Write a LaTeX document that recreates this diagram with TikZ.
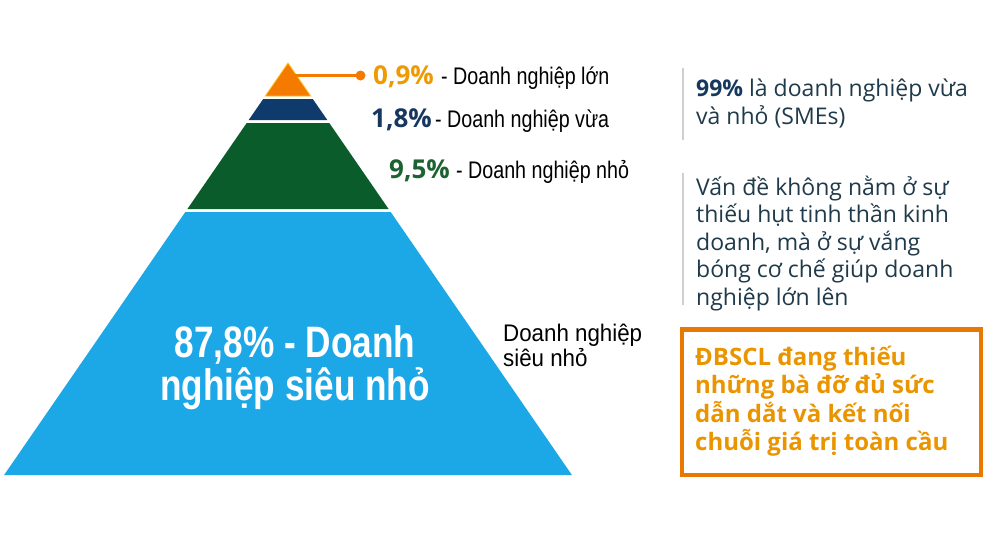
\documentclass[tikz,border=0pt]{standalone}
\usepackage{fontspec}
\setmainfont{Open Sans}
\newfontfamily\condf[FakeStretch=0.82]{Liberation Sans}
\newfontfamily\condlab[FakeStretch=0.93]{Liberation Sans}
\newfontfamily\condbig[FakeStretch=0.80]{Liberation Sans}
\definecolor{tipor}{HTML}{F57A00}
\definecolor{tipedge}{HTML}{FFC21A}
\definecolor{navyl}{HTML}{0E3A6C}
\definecolor{greenl}{HTML}{0B5C2B}
\definecolor{bluel}{HTML}{1CA8E6}
\definecolor{pctor}{HTML}{EE9A00}
\definecolor{pctnavy}{HTML}{17385E}
\definecolor{pctgreen}{HTML}{1D6231}
\definecolor{slate}{HTML}{1F3A4A}
\definecolor{boxor}{HTML}{E87800}
\definecolor{boxtxt}{HTML}{EA9500}
\definecolor{greyline}{HTML}{CFCFCF}
\begin{document}
\begin{tikzpicture}[x=1pt,y=-1pt,
  lab/.style={anchor=base west,inner sep=0pt,font=\condf\fontsize{24}{24}\selectfont,text=black},
  pct/.style={anchor=base west,inner sep=0pt,font=\bfseries\fontsize{26}{26}\selectfont},
  para/.style={anchor=north west,inner sep=0pt,align=left,text=slate,font=\fontsize{23}{27.5}\selectfont},
  sep/.style={draw=greyline,line width=1.5pt}]
\useasboundingbox[fill=white] (0,0) rectangle (1000,555);
% pyramid layers
\fill[tipor,draw=tipedge,line width=0.8pt] (288,63) -- (310.7,96) -- (265.3,96) -- cycle;
\fill[navyl] (263.2,99) -- (312.8,99) -- (327.3,120) -- (248.7,120) -- cycle;
\fill[greenl] (246.7,123) -- (329.3,123) -- (388.6,209) -- (187.4,209) -- cycle;
\fill[bluel] (185.3,212) -- (390.7,212) -- (571.9,475) -- (4.1,475) -- cycle;
% connector from tip to dot
\coordinate (tipR) at (295,75.5);
\node[circle,fill=tipor,inner sep=0pt,minimum size=10pt] (dot) at (360.5,75.5) {};
\draw[tipor,line width=2.5pt] (tipR) -- (dot.center);
% labels
\node[pct,text=pctor] (p1) at (373,84.5) {0,9\%};
\node[lab] (l1) at (441,84) {- Doanh nghiệp lớn};
\node[pct,text=pctnavy] (p2) at (371,127.5) {1,8\%};
\node[lab] (l2) at (435,127) {- Doanh nghiệp vừa};
\node[pct,text=pctgreen] (p3) at (389,178.5) {9,5\%};
\node[lab] (l3) at (456,178) {- Doanh nghiệp nhỏ};
\node[anchor=north west,inner sep=0pt,align=left,font=\condlab\fontsize{24}{24.5}\selectfont] (l4) at (503,324) {Doanh nghiệp\\siêu nhỏ};
\node[align=center,inner sep=0pt,text=white,font=\condbig\bfseries\fontsize{44}{43}\selectfont] (big) at (295,368) {87,8\% - Doanh\\nghiệp siêu nhỏ};
% right panel
\draw[sep] (683,68) -- (683,140);
\node[para] (r1) at (696,79) {\textbf{\textcolor{pctnavy}{99\%}} là doanh nghiệp vừa\\và nhỏ (SMEs)};
\draw[sep] (683,173) -- (683,305);
\node[para] (r2) at (696,175.5) {Vấn đề không nằm ở sự\\thiếu hụt tinh thần kinh\\doanh, mà ở sự vắng\\bóng cơ chế giúp doanh\\nghiệp lớn lên};
\draw[boxor,line width=4.5pt] (682,329.5) rectangle (981,475);
\node[anchor=north west,inner sep=0pt,align=left,text=boxtxt,font=\bfseries\fontsize{24}{28.5}\selectfont] (r3) at (695,345.5) {ĐBSCL đang thiếu\\những bà đỡ đủ sức\\dẫn dắt và kết nối\\chuỗi giá trị toàn cầu};
\end{tikzpicture}
\end{document}
